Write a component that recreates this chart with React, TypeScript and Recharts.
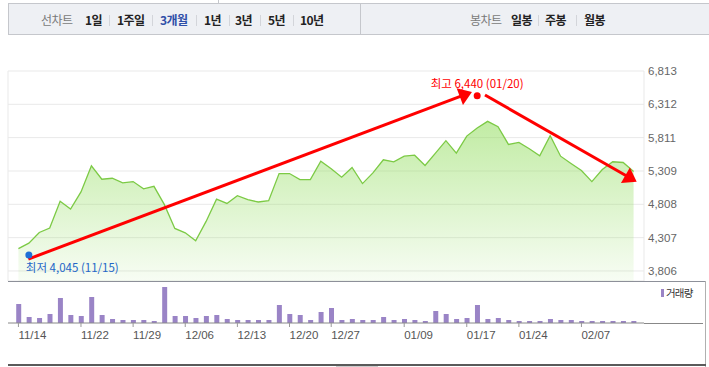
import React from "react"
import {
  ComposedChart,
  Area,
  XAxis,
  YAxis,
  CartesianGrid,
  ReferenceDot,
  ReferenceLine,
  BarChart,
  Bar,
} from "recharts"

// daily close, 60 trading days
const closes = [
  4143, 4224, 4384, 4451, 4853, 4738, 4995, 5387, 5185, 5200,
  5130, 5150, 5040, 5079, 4803, 4445, 4380, 4259, 4551, 4886,
  4822, 4939, 4878, 4843, 4863, 5271, 5271, 5180, 5180, 5457,
  5342, 5215, 5362, 5120, 5281, 5478, 5448, 5532, 5547, 5392,
  5577, 5765, 5577, 5834, 5955, 6056, 5976, 5709, 5739, 5644,
  5538, 5840, 5532, 5422, 5316, 5150, 5331, 5448, 5437, 5301,
]

const volumes = [
  19000, 6000, 5000, 9000, 25000, 8000, 7000, 26000, 8000, 4000,
  3000, 3000, 3000, 2000, 36000, 7000, 7000, 5000, 7000, 8000,
  4000, 3000, 3000, 3000, 3000, 18000, 9000, 8000, 3000, 11000,
  15000, 3000, 4000, 3000, 3000, 6000, 3000, 4000, 3000, 2000,
  12000, 9000, 4000, 5000, 18000, 4000, 5000, 3000, 2000, 2000,
  2000, 4000, 3000, 3000, 2000, 2000, 2000, 2000, 2000, 2000,
]

const tickIdx = [0, 6, 11, 16, 21, 26, 30, 37, 43, 48, 54]
const tickLabels = ["11/14", "11/22", "11/29", "12/06", "12/13", "12/20", "12/27", "01/09", "01/17", "01/24", "02/07"]
const priceTicks = [3806, 4307, 4808, 5309, 5811, 6312, 6813]

const low = { i: 1, value: 4045, date: "11/15" }
const high = { i: 44, value: 6440, date: "01/20" }

// hand drawn arrows (index, price)
const arrowUp = [{ x: 0.95, y: 3985 }, { x: 43.5, y: 6497 }]
const arrowDown = [{ x: 44.75, y: 6452 }, { x: 59.3, y: 5148 }]

const lineTabs = ["1일", "1주일", "3개월", "1년", "3년", "5년", "10년"]
const candleTabs = ["일봉", "주봉", "월봉"]

const data = closes.map((c, i) => ({ i, close: c, volume: volumes[i] }))

const KR = '"Noto Sans CJK KR", "Noto Sans", sans-serif'
const NUM = '"Liberation Sans", Arial, sans-serif'

const Arrow = (p: any) => {
  const { x1, y1, x2, y2 } = p
  const dx = x2 - x1
  const dy = y2 - y1
  const len = Math.hypot(dx, dy)
  const ux = dx / len
  const uy = dy / len
  const L = 13
  const W = 9
  const bx = x2 - ux * L
  const by = y2 - uy * L
  return (
    <g>
      <line x1={x1} y1={y1} x2={bx + ux * 2} y2={by + uy * 2} stroke="#ff0000" strokeWidth={3} />
      <polygon
        points={`${x2},${y2} ${bx - uy * W},${by + ux * W} ${bx + uy * W},${by - ux * W}`}
        fill="#ff0000"
      />
    </g>
  )
}

const LowDot = (p: any) => (
  <g>
    <circle cx={p.cx} cy={p.cy} r={3.5} fill="#1f6fd6" />
    <text x={p.cx - 3} y={p.cy + 17} fontSize={11.5} fill="#2467c8" fontFamily={KR}>
      {`최저 ${low.value.toLocaleString("en-US")} (${low.date})`}
    </text>
  </g>
)

const HighDot = (p: any) => (
  <g>
    <circle cx={p.cx} cy={p.cy} r={3.5} fill="#ff0000" />
    <text x={p.cx} y={p.cy - 8} fontSize={11.5} fill="#ff0000" textAnchor="middle" fontFamily={KR}>
      {`최고 ${high.value.toLocaleString("en-US")} (${high.date})`}
    </text>
  </g>
)

const DateTick = (p: any) => {
  const k = tickIdx.indexOf(p.payload.value)
  return (
    <text x={p.x} y={p.y} dy="0.71em" textAnchor="start" fontSize={11.5} fill="#555" fontFamily={NUM}>
      {tickLabels[k]}
    </text>
  )
}

function TabBar() {
  const lineLeft = [85, 117, 160, 204, 235, 268, 300]
  const lineSep = [109, 152, 196, 229, 260, 293]
  const candleLeft = [511, 545, 584]
  const candleSep = [538, 576]
  const text = (s: string, left: number, color: string, bold: boolean) => (
    <span
      key={s + left}
      style={{
        position: "absolute",
        left,
        top: 11,
        lineHeight: "18px",
        fontSize: 12,
        letterSpacing: -0.6,
        fontWeight: bold ? 700 : 400,
        color,
        fontFamily: KR,
        whiteSpace: "nowrap",
      }}
    >
      {s}
    </span>
  )
  const sep = (left: number) => (
    <div key={"s" + left} style={{ position: "absolute", left, top: 15, width: 1, height: 11, background: "#d3d5da" }} />
  )
  return (
    <>
      <div style={{ position: "absolute", left: 218, top: 0, width: 1, height: 4, background: "#c5c7cc" }} />
      <div
        style={{
          position: "absolute",
          left: 8,
          top: 3,
          width: 720,
          height: 30,
          background: "#eef0f4",
          border: "1px solid #c5c7cc",
        }}
      />
      <div style={{ position: "absolute", left: 360, top: 4, width: 1, height: 30, background: "#c5c7cc" }} />
      {text("선차트", 41, "#7a7a7a", false)}
      {lineTabs.map((t, k) => text(t, lineLeft[k], t === "3개월" ? "#2f4fa8" : "#222", true))}
      {lineSep.map(sep)}
      {text("봉차트", 470, "#7a7a7a", false)}
      {candleTabs.map((t, k) => text(t, candleLeft[k], "#222", true))}
      {candleSep.map(sep)}
    </>
  )
}

export default function App() {
  return (
    <div
      style={{
        position: "absolute",
        left: 0,
        top: 0,
        width: 709,
        height: 367,
        overflow: "hidden",
        background: "#fff",
      }}
    >
      <TabBar />

      <div style={{ position: "absolute", left: 0, top: 0 }}>
        <ComposedChart width={709} height={290} data={data} margin={{ top: 71, right: 0, bottom: 9, left: 8 }}>
          <defs>
            <linearGradient id="areaFill" x1="0" y1="0" x2="0" y2="1">
              <stop offset="0%" stopColor="#8fdc5a" stopOpacity={0.55} />
              <stop offset="100%" stopColor="#8fdc5a" stopOpacity={0.07} />
            </linearGradient>
          </defs>
          <CartesianGrid stroke="#e9e9e9" />
          <XAxis
            dataKey="i"
            type="number"
            domain={[-1, 60]}
            ticks={tickIdx}
            interval={0}
            height={0}
            tick={false}
            axisLine={false}
            tickLine={false}
          />
          <YAxis
            orientation="right"
            type="number"
            domain={[3655, 6813]}
            ticks={priceTicks}
            interval={0}
            width={65}
            axisLine={false}
            tickLine={false}
            tickSize={2}
            tickMargin={2}
            tickFormatter={(v: number) => v.toLocaleString("en-US")}
            tick={{ fontSize: 11.5, fill: "#666", fontFamily: NUM }}
          />
          <Area
            type="linear"
            dataKey="close"
            stroke="#7cca45"
            strokeWidth={1.3}
            fill="url(#areaFill)"
            fillOpacity={1}
            dot={false}
            activeDot={false}
            isAnimationActive={false}
          />
          <ReferenceLine segment={arrowUp} shape={Arrow} />
          <ReferenceLine segment={arrowDown} shape={Arrow} />
          <ReferenceDot x={low.i} y={low.value} shape={LowDot} />
          <ReferenceDot x={high.i} y={high.value} shape={HighDot} />
        </ComposedChart>
      </div>

      <div style={{ position: "absolute", left: 8, top: 281, width: 697, height: 1, background: "#8d9099" }} />

      <div style={{ position: "absolute", left: 0, top: 281 }}>
        <BarChart width={709} height={86} data={data} margin={{ top: 0, right: 65, bottom: 14, left: 8 }}>
          <XAxis
            dataKey="i"
            type="number"
            domain={[-1, 60]}
            ticks={tickIdx}
            interval={0}
            height={30}
            tickSize={4}
            tickMargin={4}
            axisLine={{ stroke: "#888" }}
            tickLine={{ stroke: "#999" }}
            tick={<DateTick />}
          />
          <YAxis hide domain={[0, 42000]} />
          <Bar dataKey="volume" fill="#9a84c6" barSize={5} isAnimationActive={false} />
        </BarChart>
      </div>

      <div style={{ position: "absolute", left: 644, top: 323, width: 59, height: 1, background: "#888" }} />
      <div style={{ position: "absolute", left: 661, top: 289, width: 3, height: 8, background: "#9a84c6" }} />
      <span
        style={{
          position: "absolute",
          left: 666,
          top: 286,
          lineHeight: "14px",
          fontSize: 10.5,
          letterSpacing: -0.8,
          color: "#333",
          fontFamily: KR,
        }}
      >
        거래량
      </span>

      <div style={{ position: "absolute", left: 705, top: 281, width: 1, height: 86, background: "#b0b0b0" }} />
      <div style={{ position: "absolute", left: 8, top: 364, width: 698, height: 2, background: "#5a5a5a" }} />
      <div style={{ position: "absolute", left: 336, top: 366, width: 42, height: 1, background: "#ccc" }} />
    </div>
  )
}
